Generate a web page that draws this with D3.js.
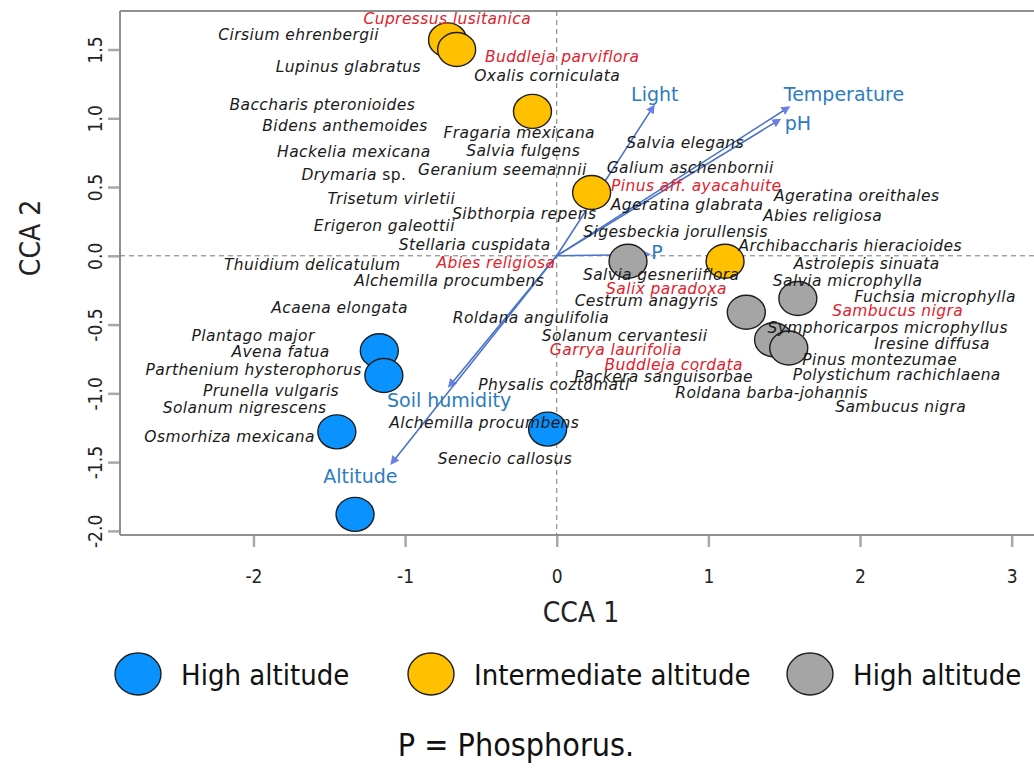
<!DOCTYPE html>
<html>
<head>
<meta charset="utf-8">
<script src="https://cdn.jsdelivr.net/npm/d3@7.9.0/dist/d3.min.js"></script>
<style>
  body { margin: 0; background: #fff; }
  svg { display: block; }
</style>
</head>
<body>
<svg id="chart" width="1034" height="777"></svg>
<script>
// Site scores (CCA 1, CCA 2) by altitude group
const blueSites = [[-1.17, -0.69], [-1.14, -0.87], [-1.45, -1.28], [-0.06, -1.26], [-1.33, -1.88]];
const yellowSites = [[-0.72, 1.57], [-0.66, 1.50], [-0.16, 1.05], [0.23, 0.46], [1.11, -0.04]];
const graySites = [[0.47, -0.04], [1.25, -0.41], [1.59, -0.31], [1.43, -0.61], [1.53, -0.67]];

const legendNames = ['High altitude', 'Intermediate altitude', 'High altitude'];
const groupColors = ['#0a92ff', '#ffc000', '#a5a5a5'];

// Environmental vectors
const envNames = ['Light', 'Temperature', 'pH', 'P', 'Soil humidity', 'Altitude'];
const envX = [0.64, 1.53, 1.47, 0.61, -0.71, -1.09];
const envY = [1.09, 1.08, 0.99, 0.01, -0.95, -1.51];

// Species scores (label centres)
const speciesNames = [
  'Cupressus lusitanica', 'Cirsium ehrenbergii', 'Lupinus glabratus', 'Buddleja parviflora',
  'Oxalis corniculata', 'Baccharis pteronioides', 'Bidens anthemoides', 'Fragaria mexicana',
  'Hackelia mexicana', 'Salvia fulgens', 'Geranium seemannii', 'Drymaria sp.',
  'Trisetum virletii', 'Sibthorpia repens', 'Erigeron galeottii', 'Stellaria cuspidata',
  'Salvia elegans', 'Galium aschenbornii', 'Pinus aff. ayacahuite', 'Ageratina oreithales',
  'Ageratina glabrata', 'Abies religiosa', 'Sigesbeckia jorullensis', 'Archibaccharis hieracioides',
  'Thuidium delicatulum', 'Abies religiosa', 'Alchemilla procumbens', 'Astrolepis sinuata',
  'Salvia gesneriiflora', 'Salvia microphylla', 'Salix paradoxa', 'Fuchsia microphylla',
  'Cestrum anagyris', 'Acaena elongata', 'Sambucus nigra', 'Roldana angulifolia',
  'Symphoricarpos microphyllus', 'Plantago major', 'Solanum cervantesii', 'Iresine diffusa',
  'Garrya laurifolia', 'Avena fatua', 'Pinus montezumae', 'Buddleja cordata',
  'Parthenium hysterophorus', 'Polystichum rachichlaena', 'Packera sanguisorbae', 'Physalis coztomatl',
  'Prunella vulgaris', 'Roldana barba-johannis', 'Sambucus nigra', 'Solanum nigrescens',
  'Alchemilla procumbens', 'Osmorhiza mexicana', 'Senecio callosus'
];
const speciesX = [
  -0.722, -1.702, -1.374, 0.036, -0.063, -1.546, -1.396, -0.247,
  -1.338, -0.221, -0.359, -1.338, -1.091, -0.214, -1.137, -0.541,
  0.847, 0.880, 0.920, 1.978, 0.860, 1.753, 0.784, 1.935,
  -1.612, -0.401, -0.709, 2.044, 0.689, 1.918, 0.724, 2.495,
  0.592, -1.432, 2.248, -0.170, 2.183, -2.002, 0.448, 2.475,
  0.390, -1.821, 2.130, 0.771, -1.999, 2.242, 0.705, -0.018,
  -1.884, 1.417, 2.268, -2.058, -0.478, -2.157, -0.341
];
const speciesY = [
  1.725, 1.608, 1.370, 1.443, 1.304, 1.097, 0.944, 0.891,
  0.757, 0.761, 0.623, 0.586, 0.416, 0.307, 0.214, 0.082,
  0.819, 0.638, 0.509, 0.434, 0.372, 0.292, 0.173, 0.073,
  -0.064, -0.053, -0.185, -0.062, -0.137, -0.180, -0.241, -0.299,
  -0.331, -0.380, -0.403, -0.453, -0.523, -0.582, -0.584, -0.639,
  -0.684, -0.703, -0.759, -0.791, -0.832, -0.870, -0.883, -0.942,
  -0.983, -0.995, -1.102, -1.109, -1.214, -1.316, -1.474
];
// tree species, printed in red
const redIndex = [0, 3, 18, 25, 30, 34, 40, 43];

const xTicks = [-2, -1, 0, 1, 2, 3];
const yTicks = [1.5, 1.0, 0.5, 0.0, -0.5, -1.0, -1.5, -2.0];

const svg = d3.select('#chart');
const plotLeft = 120, plotTop = 11, plotBottom = 535;

const x = d3.scaleLinear().domain([-2.88, 3.2]).range([plotLeft, 1042]);
const y = d3.scaleLinear().domain([-2.03, 1.78]).range([plotBottom, plotTop]);

const axisColor = '#8f8f8f';
const tickFont = '"DejaVu Sans Condensed", "DejaVu Sans", sans-serif';
const plainMinus = f => d => f(d).replace('\u2212', '-');

// x axis
const gx = svg.append('g')
  .attr('transform', `translate(0,${plotBottom})`)
  .call(d3.axisBottom(x).tickValues(xTicks).tickSize(12).tickSizeOuter(0).tickPadding(23)
    .tickFormat(plainMinus(d3.format('d'))));
gx.select('.domain').remove();
gx.selectAll('.tick line').attr('stroke', '#a8a8a8').attr('stroke-width', 2.5);
gx.selectAll('.tick text').attr('fill', '#222').style('font-family', tickFont).style('font-size', '19px');

// y axis with rotated labels
const gy = svg.append('g')
  .attr('transform', `translate(${plotLeft},0)`)
  .call(d3.axisLeft(y).tickValues(yTicks).tickSize(12).tickSizeOuter(0)
    .tickFormat(plainMinus(d3.format('.1f'))));
gy.select('.domain').remove();
gy.selectAll('.tick line').attr('stroke', '#a8a8a8').attr('stroke-width', 2.5);
gy.selectAll('.tick text')
  .attr('x', 0).attr('y', -25).attr('dy', null)
  .attr('transform', 'rotate(-90)')
  .attr('text-anchor', 'middle')
  .attr('dominant-baseline', 'central')
  .attr('fill', '#222')
  .style('font-family', tickFont).style('font-size', '19px');

// frame lines
svg.append('line').attr('x1', plotLeft).attr('x2', 1034).attr('y1', plotTop).attr('y2', plotTop)
  .attr('stroke', axisColor).attr('stroke-width', 2);
svg.append('line').attr('x1', plotLeft).attr('x2', plotLeft).attr('y1', plotTop).attr('y2', plotBottom)
  .attr('stroke', axisColor).attr('stroke-width', 2);
svg.append('line').attr('x1', plotLeft).attr('x2', 1034).attr('y1', plotBottom).attr('y2', plotBottom)
  .attr('stroke', axisColor).attr('stroke-width', 2);

// zero lines
svg.append('line').attr('x1', plotLeft).attr('x2', 1034).attr('y1', y(0)).attr('y2', y(0))
  .attr('stroke', '#777').attr('stroke-width', 1).attr('stroke-dasharray', '5,4');
svg.append('line').attr('x1', x(0)).attr('x2', x(0)).attr('y1', plotTop).attr('y2', plotBottom)
  .attr('stroke', '#777').attr('stroke-width', 1).attr('stroke-dasharray', '5,4');

// axis titles
svg.append('text').attr('x', 581).attr('y', 612)
  .attr('text-anchor', 'middle').attr('dominant-baseline', 'central')
  .style('font-family', tickFont).style('font-size', '28px').attr('fill', '#222')
  .text('CCA 1');
svg.append('text').attr('transform', 'translate(30,238) rotate(-90)')
  .attr('text-anchor', 'middle').attr('dominant-baseline', 'central')
  .style('font-family', tickFont).style('font-size', '28px').attr('fill', '#222')
  .text('CCA 2');

// arrows
svg.append('defs').append('marker')
  .attr('id', 'head')
  .attr('viewBox', '0 0 10 10')
  .attr('refX', 8).attr('refY', 5)
  .attr('markerWidth', 9).attr('markerHeight', 9)
  .attr('markerUnits', 'userSpaceOnUse')
  .attr('orient', 'auto')
  .append('path').attr('d', 'M0,0 L10,5 L0,10 Z').attr('fill', '#6b7fe6');

const env = envNames.map((n, i) => ({ name: n, x: envX[i], y: envY[i] }));
svg.append('g').selectAll('line')
  .data(env)
  .join('line')
  .attr('x1', x(0)).attr('y1', y(0))
  .attr('x2', d => x(d.x)).attr('y2', d => y(d.y))
  .attr('stroke', '#4a72c8').attr('stroke-width', 1.6)
  .attr('marker-end', 'url(#head)');

// label placement around arrow tips
const envLabelPos = {
  'Light': [1, -12, 'middle'],
  'Temperature': [-5, -13, 'start'],
  'pH': [5, 3, 'start'],
  'P': [2, -2, 'start'],
  'Soil humidity': [0, 14, 'middle'],
  'Altitude': [-31, 13, 'middle']
};
svg.append('g').selectAll('text')
  .data(env)
  .join('text')
  .attr('x', d => x(d.x) + envLabelPos[d.name][0])
  .attr('y', d => y(d.y) + envLabelPos[d.name][1])
  .attr('text-anchor', d => envLabelPos[d.name][2])
  .attr('dominant-baseline', 'central')
  .style('font-family', '"DejaVu Sans", sans-serif').style('font-size', '19px')
  .attr('fill', '#2c7cc0')
  .text(d => d.name);

// site points
const sites = [
  ...blueSites.map(p => ({ x: p[0], y: p[1], g: 0 })),
  ...yellowSites.map(p => ({ x: p[0], y: p[1], g: 1 })),
  ...graySites.map(p => ({ x: p[0], y: p[1], g: 2 }))
];
svg.append('g').selectAll('ellipse')
  .data(sites)
  .join('ellipse')
  .attr('cx', d => x(d.x)).attr('cy', d => y(d.y))
  .attr('rx', 19).attr('ry', 17)
  .attr('fill', d => groupColors[d.g])
  .attr('stroke', '#1e1e1e').attr('stroke-width', 1.4);

// species labels
const species = speciesNames.map((n, i) => ({
  name: n, x: speciesX[i], y: speciesY[i], red: redIndex.includes(i)
}));
const sp = svg.append('g').selectAll('text')
  .data(species)
  .join('text')
  .attr('x', d => x(d.x)).attr('y', d => y(d.y))
  .attr('text-anchor', 'middle')
  .attr('dominant-baseline', 'central')
  .style('font-family', '"DejaVu Sans", sans-serif')
  .style('font-size', '15.5px')
  .style('letter-spacing', '0.4px')
  .style('font-style', 'italic')
  .attr('fill', d => d.red ? '#e0222c' : '#1a1a1a');
sp.each(function (d) {
  const t = d3.select(this);
  if (d.name.endsWith(' sp.')) {
    t.append('tspan').text(d.name.replace(' sp.', ' '));
    t.append('tspan').style('font-style', 'normal').text('sp.');
  } else {
    t.text(d.name);
  }
});

// legend
const legendX = [138, 431, 810];
const lg = svg.append('g').selectAll('g')
  .data(legendNames)
  .join('g')
  .attr('transform', (d, i) => `translate(${legendX[i]},674)`);
lg.append('ellipse').attr('rx', 23).attr('ry', 21)
  .attr('fill', (d, i) => groupColors[i])
  .attr('stroke', '#1e1e1e').attr('stroke-width', 1.4);
lg.append('text').attr('x', 43).attr('y', 1)
  .attr('dominant-baseline', 'central')
  .style('font-family', tickFont).style('font-size', '29px').attr('fill', '#111')
  .text(d => d);

svg.append('text').attr('x', 516).attr('y', 745)
  .attr('text-anchor', 'middle').attr('dominant-baseline', 'central')
  .style('font-family', tickFont).style('font-size', '32px').attr('fill', '#111')
  .text('P = Phosphorus.');
</script>
</body>
</html>
